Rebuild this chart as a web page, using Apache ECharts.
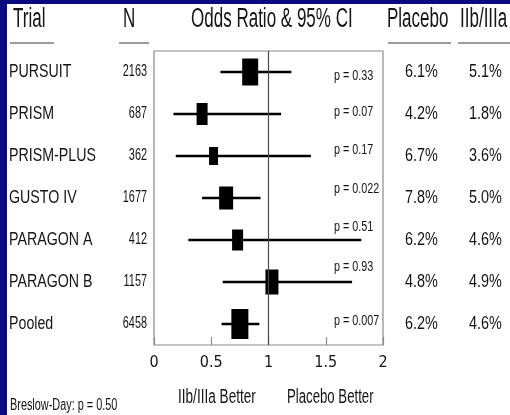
<!DOCTYPE html>
<html>
<head>
<meta charset="utf-8">
<script src="https://cdn.jsdelivr.net/npm/echarts@6/dist/echarts.min.js"></script>
<style>
  html, body { margin: 0; padding: 0; background: #ffffff; }
  #chart { width: 510px; height: 415px; }
</style>
</head>
<body>
<div id="chart"></div>
<script>
// Trials in the meta-analysis, top to bottom
const trials    = ['PURSUIT', 'PRISM', 'PRISM-PLUS', 'GUSTO IV', 'PARAGON A', 'PARAGON B', 'Pooled'];
const patients  = ['2163', '687', '362', '1677', '412', '1157', '6458'];
// Odds ratio with 95% confidence interval
const oddsRatio = [0.84, 0.42, 0.52, 0.63, 0.73, 1.03, 0.75];
const ciLow     = [0.58, 0.17, 0.19, 0.42, 0.30, 0.60, 0.59];
const ciHigh    = [1.20, 1.11, 1.37, 0.93, 1.81, 1.73, 0.92];
const pValues   = ['p = 0.33', 'p = 0.07', 'p = 0.17', 'p = 0.022', 'p = 0.51', 'p = 0.93', 'p = 0.007'];
// Event rates
const placeboRate = ['6.1%', '4.2%', '6.7%', '7.8%', '6.2%', '4.8%', '6.2%'];
const iibRate     = ['5.1%', '1.8%', '3.6%', '5.0%', '4.6%', '4.9%', '4.6%'];
// Axis ticks
const xTicks = [0, 0.5, 1, 1.5, 2];

// Drawing style: marker box size [w, h] per row and p-label vertical nudge
const boxSize = [[16, 27], [11, 22], [9, 18], [14, 23], [11, 21], [13, 25], [17, 30]];
const pNudge  = [4, -2, -6, -9, -13, -15, -3];

const FONT = '"Liberation Sans", Arial, Helvetica, sans-serif';
const INK = '#151515';

function txt(text, x, y, size, sx, align, extra) {
  return Object.assign({
    type: 'text', x: x, y: y, scaleX: sx, silent: true,
    style: { text: text, x: 0, y: 0, fontSize: size, fontFamily: FONT, fill: INK,
             align: align || 'left', verticalAlign: 'middle' }
  }, extra || {});
}

const chart = echarts.init(document.getElementById('chart'), null, { renderer: 'canvas' });

const rows = trials.map((t, i) => [i, oddsRatio[i], ciLow[i], ciHigh[i]]);

chart.setOption({
  animation: false,
  backgroundColor: '#ffffff',
  grid: { left: 154, right: 127, top: 51, bottom: 70, show: true, borderColor: '#8a8a8a', borderWidth: 1.2, backgroundColor: 'transparent' },
  xAxis: {
    type: 'value', min: xTicks[0], max: xTicks[xTicks.length - 1], interval: 0.5,
    axisLine: { show: false },
    axisTick: { show: true, inside: true, length: 8, lineStyle: { color: '#8a8a8a', width: 1.2 } },
    splitLine: { show: false },
    axisLabel: { margin: 10, fontSize: 16, color: INK, fontFamily: '"Liberation Sans Narrow", "DejaVu Sans Condensed", ' + FONT,
                 formatter: v => String(v) }
  },
  yAxis: {
    type: 'category', data: trials, inverse: true,
    axisLine: { show: false }, axisTick: { show: false }, axisLabel: { show: false }, splitLine: { show: false }
  },
  series: [
    {
      // reference line at OR = 1
      type: 'line', data: [], silent: true,
      markLine: {
        symbol: 'none', silent: true, label: { show: false },
        lineStyle: { color: '#4a4a4a', width: 1.2, type: 'solid' },
        data: [{ xAxis: 1 }]
      }
    },
    {
      type: 'custom',
      clip: false,
      data: rows,
      renderItem: function (params, api) {
        const i = api.value(0);
        const c = api.coord([api.value(1), i]);
        const lo = api.coord([api.value(2), i]);
        const hi = api.coord([api.value(3), i]);
        const y = c[1];
        const [bw, bh] = boxSize[i];
        const pRight = api.coord([xTicks[xTicks.length - 1], i])[0];
        return {
          type: 'group',
          children: [
            { type: 'line', shape: { x1: lo[0], y1: y, x2: hi[0], y2: y }, style: { stroke: '#000', lineWidth: 2.6 } },
            { type: 'rect', shape: { x: c[0] - bw / 2, y: y - bh / 2, width: bw, height: bh }, style: { fill: '#000' } },
            txt(pValues[i], pRight - 49, y + pNudge[i], 15, 0.72, 'left'),
            txt(trials[i], 9, y, 18, 0.79, 'left'),
            txt(patients[i], 147, y, 16, 0.68, 'right'),
            txt(placeboRate[i], 405, y, 18, 0.8, 'left'),
            txt(iibRate[i], 469, y, 18, 0.8, 'left')
          ]
        };
      }
    }
  ],
  graphic: [
    // frame
    { type: 'rect', shape: { x: 0, y: 0, width: 7, height: 415 }, style: { fill: '#0a0a80' }, silent: true },
    { type: 'rect', shape: { x: 0, y: 0, width: 510, height: 4 }, style: { fill: '#0a0a80' }, silent: true },
    // column headers
    txt('Trial', 13, 20, 27, 0.63, 'left'),
    txt('N', 123, 20, 27, 0.63, 'left'),
    txt('Odds Ratio & 95% CI', 191, 20, 27, 0.63, 'left'),
    txt('Placebo', 387, 20, 27, 0.63, 'left'),
    txt('IIb/IIIa', 460, 20, 27, 0.63, 'left'),
    { type: 'line', shape: { x1: 10, y1: 43, x2: 54, y2: 43 }, style: { stroke: '#7a7a7a', lineWidth: 1.5 }, silent: true },
    { type: 'line', shape: { x1: 119, y1: 43, x2: 149, y2: 43 }, style: { stroke: '#7a7a7a', lineWidth: 1.5 }, silent: true },
    { type: 'line', shape: { x1: 388, y1: 43, x2: 451, y2: 43 }, style: { stroke: '#7a7a7a', lineWidth: 1.5 }, silent: true },
    { type: 'line', shape: { x1: 458, y1: 43, x2: 510, y2: 43 }, style: { stroke: '#7a7a7a', lineWidth: 1.5 }, silent: true },
    // footer
    txt('IIb/IIIa Better', 178, 397, 20, 0.68, 'left'),
    txt('Placebo Better', 287, 397, 20, 0.66, 'left'),
    txt('Breslow-Day: p = 0.50', 10, 406, 16, 0.68, 'left')
  ]
});
</script>
</body>
</html>
